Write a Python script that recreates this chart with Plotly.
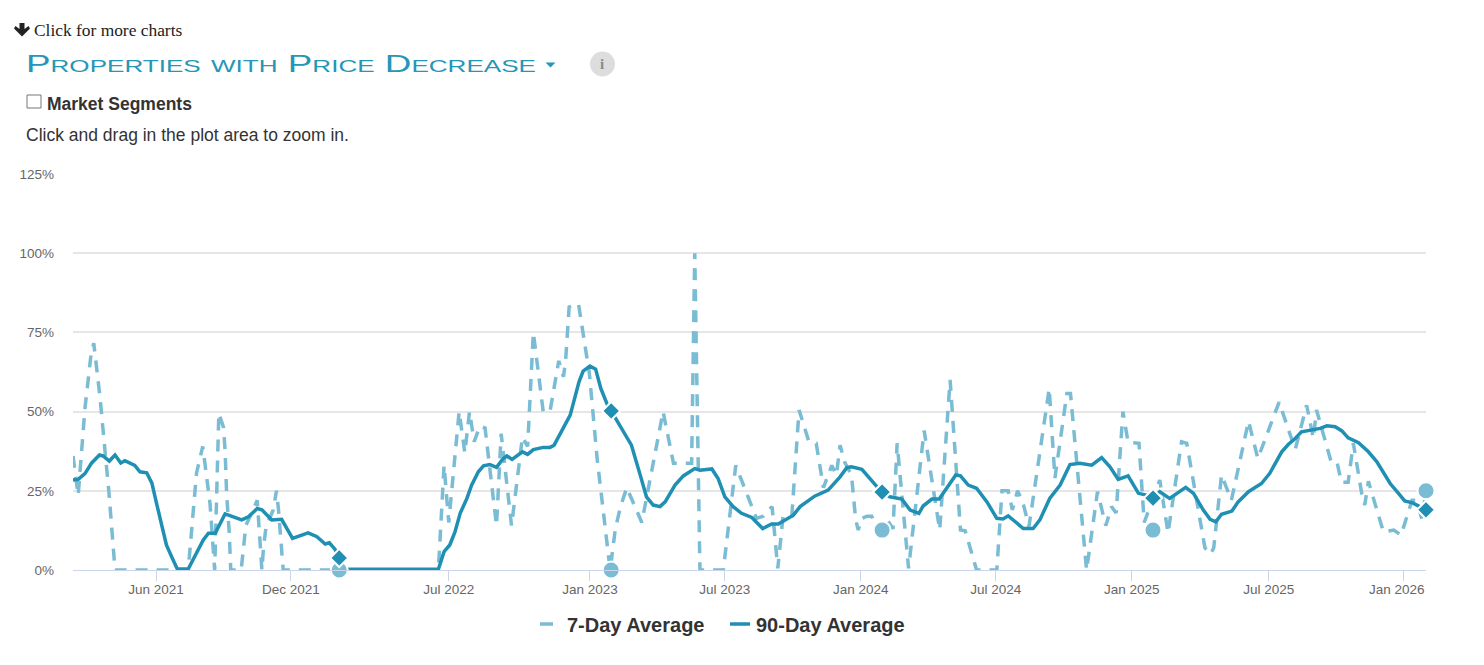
import plotly.graph_objects as go

# Weeks since early Feb 2021, and % of properties
WEEKS_7DAY = [0,1,2.3,3.4,4,5.2,6.2,6.9,8.1,22.2,23.8,25,26.4,27.3,28.1,29,29.3,29.6,30.1,30.4,32.4,32.8,33.3,35.5,36.4,36.7,37.2,38.6,39.2,39.6,39.9,40.5,
 70.4,71.5,72.4,74.4,75.5,76.4,77.3,78.4,79.4,81.6,82.5,84.5,86.6,87.6,88.7,90.6,91.9,93.6,94.5,94.9,95.6,97.4,99.5,101,103.5,104.5,105.5,106.7,109.6,112.5,113.7,115.7,119.2,119.8,120.8,125.3,127.7,131.7,133,134.7,135.8,136.8,138.5,139.9,141.8,143.2,144.6,146.2,147.1,147.8,148.7,150,150.8,151.3,152,153,153.9,154.7,155.9,156.8,158,158.8,161,164,167,169,171,171.9,174.1,178,179,180.2,181,182,183,184.2,188.1,189.2,191.5,192.2,195.3,197.4,199,200.1,201,202.3,203.3,205.4,206.4,209.4,211,213.6,214.6,218.1,219.2,219.8,221.3,223.2,226.5,228.3,232.4,235.5,237.7,239,239.6,242.5,243.6,244.4,245.7,246.7,248.3,248.9,249.6,252.5,254.5,255.9,258,259,259.9,260.7]
VALUES_7DAY = [36,23.6,51,67,71.6,54.6,37,25,0,0,30.6,39,21,0,49.5,45,38,24,11.7,0,0,6.3,14,22,0,7,13.7,19,25,19,11.6,0,
 0,33,15,50,37,50,40.5,45.4,44.8,14,43,14,42,39,75,50,50,66,61,65.7,83,84,62,35,0,13,20,26,15,39,50,33.7,33.7,100,0,0,33,16.3,17,20,0.5,16.8,17,50.5,40.5,40,26,33,30,39.4,34,30,16,12.6,16.3,17,17,14,12.6,16,13,40,0.5,44,12.6,60,12.6,12.4,0,0,25,25,19,25,21.5,13.7,57.3,29,55.7,55.7,0,24.7,14,20,18,50,40.3,40,15,28.4,11.7,40.5,40,7,5,7,30,22,47,35.2,53,38,52,41.6,50.5,33.7,33.7,27.7,27.7,40,24.3,20.5,28,12,12.6,11,22,22,16,25]

WEEKS_90DAY = [0,1,2.3,3.6,5.1,5.8,7,8.1,9.2,10,11.9,12.9,14.2,15.2,16.1,17.1,18,19,20.1,22.2,23.5,25.1,26.1,27.4,29.3,30.9,32.5,33.8,35.5,36.4,38.3,40.2,42.3,45.3,47,48.6,49.4,50.5,51.3,52.7,70.4,71.5,72.6,73.6,74.6,75.9,76.8,78.1,79.1,80.3,81.6,82.9,83.6,84.6,86.6,87.6,88.7,90.6,91.9,92.7,95.8,97.5,98.3,99.6,100.7,101.7,103,103.7,105.1,107.6,109.2,110.5,111.8,113.1,114.1,116,117.6,119.8,120.8,123.1,124.3,125.6,127.2,128.8,130.8,132.9,134.6,135.9,138.8,140.1,142.9,145.5,147.8,149.1,150,152,154.9,155.9,157.4,159.7,161.3,163,163.8,165.5,166.9,168.7,170.1,171,172.5,174.1,176.1,178,179.2,180.2,183.1,185,186.3,188.2,190.2,192.1,194,196.3,198.2,199.8,201.4,203.3,205.3,206.6,208.1,209.4,211.3,214.4,215.9,217.8,219.1,220.2,221.3,223.3,224.5,226.5,229,230.6,232.9,234.2,235.5,236.7,238.4,240.3,241.6,243.2,244.5,245.7,247.7,249.6,251.2,252.5,253.8,255.4,256.6,258.1,259.2,260.7]
VALUES_90DAY = [28.4,28.6,30.4,33.8,36.3,36,34.4,36.3,33.8,34.5,33,31,30.7,27.4,21,13.7,7.9,4.2,0.3,0.3,4.2,9.5,11.6,11.6,17.7,16.8,15.8,16.8,19.4,19,15.8,16,10,11.7,10.5,8.2,8.6,6.5,3.8,0.2,0.2,5.8,7.9,12,17.9,22.6,26.8,31,32.9,33.3,32.4,35.2,36,34.9,37.3,36.5,38,38.7,38.7,39.4,48.9,59.4,62.8,64.4,63.4,57.3,52,50.2,46.3,39.4,30.5,23.1,20.5,20,21.5,26.8,29.7,32,31.5,31.9,28.9,23.1,20,17.9,16.6,13.1,14.5,14.5,17.3,20,23.3,25.2,29.4,32.3,32.6,31.8,26.3,24.6,23.1,22.4,18.9,17.9,20.2,22.4,22.4,26.8,30,29.7,26.8,25.8,21.5,16.3,16.1,17.1,13.1,13.1,15.8,22.6,26.8,33.3,33.7,33.1,35.5,32.6,28.6,29.7,24.2,23.7,22.7,24.7,22.6,26.1,24.2,18.9,16,15.2,17.6,18.6,21.5,24.7,27.3,30.5,37.3,39.7,41.5,43.6,44.2,44.7,45.5,45.2,43.9,41.7,40.2,37.3,34.2,30.5,27.3,24.2,21.8,21.2,20.3,19]

MARK_WEEKS = [51.3,103.7,155.9,208.1,260.7]
MARK_7DAY = [0,0,12.6,12.6,25]
MARK_90DAY = [3.8,50.2,24.6,22.7,19]

TICK_WEEKS = [16,42,72.4,99.6,125.6,151.8,177.8,204,230.4,256.3]
TICK_LABELS = ["Jun 2021","Dec 2021","Jul 2022","Jan 2023","Jul 2023","Jan 2024","Jul 2024","Jan 2025","Jul 2025","Jan 2026"]
Y_TICKS = [0,25,50,75,100,125]
Y_LABELS = ["0%","25%","50%","75%","100%","125%"]

C7 = "#7abcd3"
C90 = "#1f8fb3"
BODY = 8                      # browser's default page margin
W, H = 1484 - 2 * BODY, 665 - 2 * BODY
L, R, T, B = 73, 1426, 174, 570   # plot area in page pixels


def px(x):
    return (x - L) / (R - L)


def py(y):
    return (B - y) / (B - T)


fig = go.Figure()
fig.add_trace(go.Scatter(x=WEEKS_7DAY, y=VALUES_7DAY, mode="lines", name="7-Day Average", showlegend=False,
                         line=dict(color=C7, width=3.5, dash="12px,9px"), cliponaxis=False, hoverinfo="skip"))
fig.add_trace(go.Scatter(x=WEEKS_90DAY, y=VALUES_90DAY, mode="lines", name="90-Day Average", showlegend=False,
                         line=dict(color=C90, width=3.5), cliponaxis=False, hoverinfo="skip"))
fig.add_trace(go.Scatter(x=MARK_WEEKS, y=MARK_7DAY, mode="markers", showlegend=False,
                         marker=dict(symbol="circle", size=17, color=C7, line=dict(color="white", width=2)),
                         cliponaxis=False, hoverinfo="skip"))
fig.add_trace(go.Scatter(x=MARK_WEEKS, y=MARK_90DAY, mode="markers", showlegend=False,
                         marker=dict(symbol="diamond", size=14, color=C90, line=dict(color="white", width=2)),
                         cliponaxis=False, hoverinfo="skip"))
# Legend keys: short strokes as in the original legend
fig.add_trace(go.Scatter(x=[None], y=[None], mode="lines", name="7-Day Average",
                         line=dict(color=C7, width=3.5, dash="0px,8px,13px,100px")))
fig.add_trace(go.Scatter(x=[None], y=[None], mode="lines", name="90-Day Average",
                         line=dict(color=C90, width=3.5, dash="0px,9px,20px,100px")))


def note(x, y, text, **font):
    anchor = font.pop("anchor", "left")
    fig.add_annotation(xref="paper", yref="paper", x=px(x), y=py(y), text=text, showarrow=False,
                       xanchor=anchor, yanchor="middle", align="left", font=font,
                       borderpad=0, borderwidth=0)


note(34, 30, "Click for more charts", family="Liberation Serif", size=17.4, color="#222222")
note(26, 63.5, "Properties with Price Decrease", family="Liberation Sans", size=24, color="#2596b8", variant="small-caps")
note(47, 104, "<b>Market Segments</b>", family="Liberation Sans", size=17.5, color="#333333")
note(26, 135, "Click and drag in the plot area to zoom in.", family="Liberation Sans", size=17.5, color="#333333")
note(602, 64, "<b>i</b>", family="Liberation Serif", size=15, color="#8a8a8a", anchor="center")
# The last tick label is pulled inside the plot area, as in the original
note(1397, 589, TICK_LABELS[-1], family="Liberation Sans", size=13.5, color="#666666", anchor="center")

paper = dict(xref="paper", yref="paper")
shapes = [
    # info badge
    dict(type="circle", x0=px(590), x1=px(615), y0=py(76.5), y1=py(51.5), fillcolor="#dddddd", line_width=0, layer="below", **paper),
    # caret
    dict(type="path", path=f"M {px(545.5)} {py(62.5)} L {px(555.5)} {py(62.5)} L {px(550.5)} {py(67.5)} Z",
         fillcolor="#2596b8", line_width=0, **paper),
    # checkbox
    dict(type="rect", x0=px(27), x1=px(41), y0=py(108), y1=py(95), fillcolor="white",
         line=dict(color="#767676", width=1), **paper),
    # arrow icon
    dict(type="path", path=(f"M {px(19.5)} {py(23)} L {px(24.5)} {py(23)} L {px(24.5)} {py(29)} L {px(28.5)} {py(26)} "
                            f"L {px(30)} {py(28.5)} L {px(22)} {py(36.5)} L {px(14)} {py(28.5)} L {px(15.5)} {py(26)} L {px(19.5)} {py(29)} Z"),
         fillcolor="#222222", line_width=0, **paper),
]

fig.update_layout(
    width=W, height=H, autosize=False,
    margin=dict(l=L - BODY, r=W - (R - BODY), t=T - BODY, b=H - (B - BODY), pad=0),
    paper_bgcolor="white", plot_bgcolor="white",
    shapes=shapes,
    showlegend=True,
    legend=dict(orientation="h", x=px(527), xanchor="left", y=py(624), yanchor="middle",
                font=dict(family="Liberation Sans", size=20, color="#333333", weight="bold"),
                itemwidth=30, entrywidth=144, entrywidthmode="pixels", bgcolor="rgba(0,0,0,0)"),
    xaxis=dict(range=[0, 260.7], tickmode="array", tickvals=TICK_WEEKS, ticktext=TICK_LABELS[:-1] + [" "],
               showgrid=False, zeroline=False, showline=True, linecolor="#ccd6eb", linewidth=1, automargin=False,
               ticks="outside", ticklen=10, tickcolor="#ccd6eb", tickwidth=1, ticklabelstandoff=-3,
               tickfont=dict(family="Liberation Sans", size=13.5, color="#666666")),
    yaxis=dict(range=[0, 125], tickmode="array", tickvals=Y_TICKS, ticktext=Y_LABELS, automargin=False,
               showgrid=True, gridcolor="#e6e6e6", gridwidth=1.5, zeroline=False, showline=False,
               ticks="", ticklabelstandoff=18,
               tickfont=dict(family="Liberation Sans", size=13.5, color="#666666")),
)
# The original heading is set in a wide face: stretch the same text to its width
stretch = """
document.querySelectorAll('.annotation-text').forEach(function (t) {
  if (t.textContent.indexOf('Properties') === 0) {
    t.setAttribute('textLength', '510');
    t.setAttribute('lengthAdjust', 'spacingAndGlyphs');
  }
});
"""
fig.write_html("out.html", config=dict(displayModeBar=False), post_script=stretch)
